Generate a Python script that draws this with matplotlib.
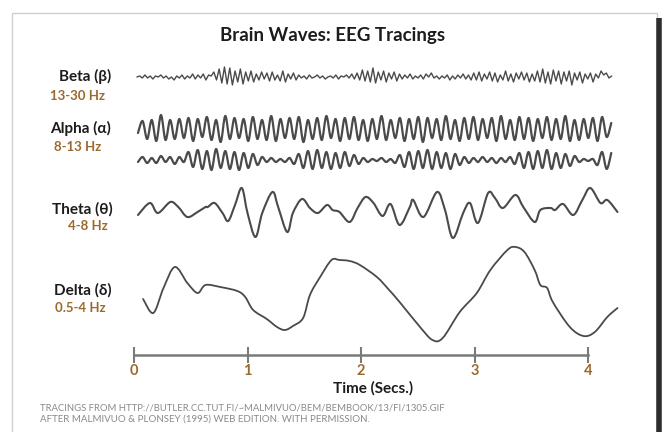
import matplotlib
matplotlib.use("Agg")
import matplotlib.pyplot as plt
from matplotlib.patches import Rectangle, PathPatch
from matplotlib.path import Path
import numpy as np

# Trace values read off the tracing (pixel-sized units, positive = up)
# Beta, alpha: evenly sampled peaks/troughs; theta, delta: (time, value) points
BETA_T0, BETA_RATE = 0.026, 42.8
beta = [0, 1, -1, 2, -1, 1, -2, 1, 0, 2,
        -1, 1, -2, 0, -3, 1, -1, 2, -2, 1,
        -1, 3, -2, 2, -1, 3, -3, 2, 1, 5,
        -3, 8, -6, 10, -7, 9, -8, 6, -5, 8,
        -7, 5, -4, 6, -5, 3, -3, 5, -2, 4,
        -4, 5, -3, 2, -4, 6, -5, 3, -2, 4,
        -3, 2, -1, 1, -2, 2, -1, 0, 2, -1,
        1, -2, 0, 1, -1, 2, -2, 1, 0, 2,
        -1, 3, -2, 4, -3, 7, -4, 6, -5, 9,
        -6, 5, -3, 6, -5, 4, -2, 5, -4, 3,
        -2, 2, -1, 3, -2, 1, -1, 2, -2, 3,
        0, 4, -1, 1, -2, 1, -1, 2, -3, 1,
        -2, 2, -1, 3, -2, 2, -3, 4, -3, 5,
        -4, 3, -2, 5, -4, 4, -5, 2, -3, 6,
        -4, 3, -5, 4, -2, 5, -3, 4, -5, 3,
        -4, 6, -5, 8, -6, 5, -7, 7, -4, 6,
        -7, 5, -4, 6, -8, 4, -3, 5, -6, 3,
        -2, 4, -5, 3, -1, 6, 2, 4, -1, 1]

ALPHA_T0, ALPHA_RATE = 0.035, 24.7
alpha1 = [-4, 8, -10, 9, -12, 14, -11, 9, -10, 10, -9, 11, -12, 10, -8, 12, -11, 9, -13, 13,
          -10, 11, -9, 10, -12, 12, -10, 9, -11, 13, -12, 10, -9, 11, -10, 12, -13, 9, -10, 11,
          -11, 13, -9, 10, -12, 11, -10, 12, -11, 9, -12, 10, -10, 13, -11, 9, -9, 11, -12, 10,
          -10, 12, -13, 11, -9, 10, -11, 13, -10, 9, -12, 11, -10, 12, -11, 10, -9, 11, -12, 13,
          -10, 9, -11, 12, -10, 11, -12, 10, -9, 12, -11, 10, -10, 13, -12, 9, -11, 10, -9, 11,
          -12, 12, -8, 6]
alpha2 = [-2, 3, -3, 2, -3, 4, -2, 3, -4, 3, -2,
          8, -7, 10, -9, 9, -10, 11, -8, 9, -9, 8, -10, 7, -8, 6, -5,
          3, -2, 2, -2, 1, -2, 2,
          -4, 6, -8, 9, -9, 10, -8, 8, -9, 7, -8, 8, -6, 5, -4,
          2, -2, 1, -1, 2, -2, 1,
          -3, 5, -7, 8, -9, 9, -8, 10, -9, 8, -8, 7, -9, 6, -5,
          3, -3, 2, -2, 3, -2, 2, -3, 2, -2, 3,
          -4, 7, -8, 8, -9, 9, -8, 10, -9, 7, -8, 6, -6, 4,
          -2, 1, -1, 1,
          -5, 8, -9, 7]

theta_t = [0.035, 0.14, 0.21, 0.32, 0.39, 0.47, 0.56, 0.63, 0.65, 0.71, 0.78, 0.83,
           0.89, 0.95, 1.00, 1.07, 1.13, 1.22, 1.27, 1.35, 1.40, 1.48, 1.55, 1.62,
           1.70, 1.75, 1.81, 1.90, 1.97, 2.04, 2.11, 2.19, 2.26, 2.34, 2.43, 2.46,
           2.55, 2.67, 2.74, 2.81, 2.90, 2.96, 3.03, 3.12, 3.18, 3.25, 3.36, 3.43,
           3.53, 3.58, 3.67, 3.71, 3.78, 3.87, 3.95, 4.02, 4.11, 4.17, 4.26]
theta_v = [-5, 7, -3, 8, 3, -7, -2, 3, 3, 7, -3, -11,
           5, 22, -3, -27, -3, 18, 3, -22, -3, 11, 2, -3,
           5, 0, -2, -12, 2, 13, 7, -6, 6, -15, 3, 10,
           -7, 18, 0, -28, -3, 7, -13, 17, 12, 2, 15, 3,
           -12, 0, 2, 0, 6, -5, 10, 22, 7, 10, -2]

delta_t = [0.08, 0.17, 0.26, 0.36, 0.47, 0.56, 0.63, 0.76, 0.91, 0.98, 1.05, 1.17,
           1.26, 1.33, 1.40, 1.49, 1.55, 1.64, 1.74, 1.81, 1.90, 1.99, 2.14, 2.24,
           2.34, 2.52, 2.63, 2.72, 2.87, 3.02, 3.14, 3.29, 3.36, 3.44, 3.53, 3.58,
           3.64, 3.69, 3.84, 3.96, 4.06, 4.17, 4.26]
delta_v = [-9, -23, 2, 23, 7, -3, 5, 3, -1, -7, -20, -29,
           -37, -40, -36, -28, -5, 13, 30, 30, 29, 25, 13, 1,
           -12, -37, -50, -48, -22, -3, 20, 40, 43, 38, 20, 5,
           2, -12, -37, -46, -42, -27, -18]

wave_names = ["Beta (β)", "Alpha (α)", "Theta (θ)", "Delta (δ)"]
wave_bands = ["13-30 Hz", "8-13 Hz", "4-8 Hz", "0.5-4 Hz"]
seconds = [0, 1, 2, 3, 4]

FONT = ["Lato", "DejaVu Sans"]
INK = "#1c1c1c"
GOLD = "#9a6a2c"
TRACE = "#4a4a4a"

fig = plt.figure(figsize=(6.68, 4.32), dpi=100)
fig.patch.set_facecolor("white")

# overlay in pixel units for frame and captions
lay = fig.add_axes([0, 0, 1, 1])
lay.set_xlim(0, 668)
lay.set_ylim(432, 0)
lay.axis("off")
lay.add_patch(Rectangle((12, 13), 645, 425, fill=False, ec="#cfcfcf", lw=1))
lay.plot([659, 659], [18, 432], color="#2e2e2e", lw=4, solid_capstyle="butt")

# trace axes: x in seconds, y in pixel rows
ax = fig.add_axes([0, 0, 1, 1], zorder=2)
ax.patch.set_alpha(0)
px0, px_per_s = 134, 113.5
ax.set_xlim(-px0 / px_per_s, (668 - px0) / px_per_s)
ax.set_ylim(432, 0)

def sampled(t0, rate, vals):
    return t0 + np.arange(len(vals)) / rate

def smooth_trace(t, y, lw):
    # draw a smooth pen stroke through the read points (cubic Bezier segments)
    t = np.asarray(t, float)
    y = np.asarray(y, float)
    pts = ax.transData.transform(np.column_stack([t, y]))
    verts = [pts[0]]
    codes = [Path.MOVETO]
    n = len(pts)
    for i in range(n - 1):
        p0 = pts[max(i - 1, 0)]
        p1, p2 = pts[i], pts[i + 1]
        p3 = pts[min(i + 2, n - 1)]
        verts += [p1 + (p2 - p0) / 6, p2 - (p3 - p1) / 6, p2]
        codes += [Path.CURVE4] * 3
    path = Path(ax.transData.inverted().transform(np.array(verts)), codes)
    ax.add_patch(PathPatch(path, fill=False, ec=TRACE, lw=lw,
                           joinstyle="round", capstyle="round"))

ax.plot(sampled(BETA_T0, BETA_RATE, beta), 77 - np.array(beta), lw=1.0,
        color=TRACE, solid_joinstyle="round", solid_capstyle="round")
smooth_trace(sampled(ALPHA_T0, ALPHA_RATE, alpha1), 129 - np.array(alpha1), 1.6)
smooth_trace(sampled(ALPHA_T0, ALPHA_RATE, alpha2), 160 - np.array(alpha2), 1.6)
smooth_trace(theta_t, 210 - np.array(theta_v), 1.5)
smooth_trace(delta_t, 290 - np.array(delta_v), 1.3)

# time axis as a real spine
for s in ["top", "left", "right"]:
    ax.spines[s].set_visible(False)
ax.spines["bottom"].set_position(("data", 355))
ax.spines["bottom"].set_bounds(seconds[0], seconds[-1])
ax.spines["bottom"].set_color("#7a7a7a")
ax.spines["bottom"].set_linewidth(1.8)
ax.set_yticks([])
ax.set_xticks(seconds)
ax.set_xticklabels([str(s) for s in seconds])
ax.tick_params(axis="x", direction="inout", length=11, width=1.5, color="#7a7a7a",
               pad=1, labelcolor=GOLD)
for lab in ax.get_xticklabels():
    lab.set_fontfamily(FONT)
    lab.set_fontweight("bold")
    lab.set_fontsize(10.5)

# captions
lay.text(333, 35, "Brain Waves: EEG Tracings", ha="center", va="center",
         fontsize=13.5, fontweight="bold", color=INK, family=FONT)
lay.text(373, 388, "Time (Secs.)", ha="center", va="center",
         fontsize=11, fontweight="bold", color=INK, family=FONT)

name_pos = [(85, 76), (81, 128), (82, 209), (83, 290)]
band_pos = [(77, 96), (78, 147), (88, 226), (80, 308)]
for name, band, (nx, ny), (bx, by) in zip(wave_names, wave_bands, name_pos, band_pos):
    lay.text(nx, ny, name, ha="center", va="center", fontsize=11,
             fontweight="bold", color=INK, family=FONT)
    lay.text(bx, by, band, ha="center", va="center", fontsize=9.5,
             fontweight="bold", color=GOLD, family=FONT)

lay.text(40, 408, "TRACINGS FROM HTTP://BUTLER.CC.TUT.FI/~MALMIVUO/BEM/BEMBOOK/13/FI/1305.GIF",
         ha="left", va="center", fontsize=6.8, color="#8a8a8a", family=FONT)
lay.text(40, 419, "AFTER MALMIVUO & PLONSEY (1995) WEB EDITION. WITH PERMISSION.",
         ha="left", va="center", fontsize=7.0, color="#8a8a8a", family=FONT)

fig.savefig("out.png", dpi=100)
